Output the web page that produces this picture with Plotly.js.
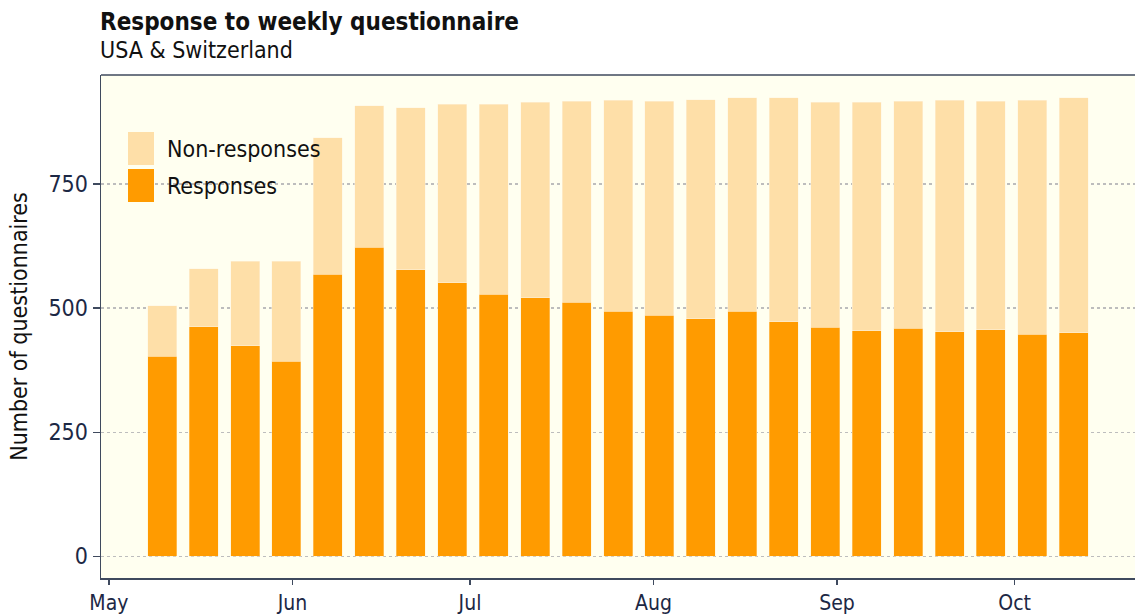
<!DOCTYPE html>
<html>
<head>
<meta charset="utf-8">
<script src="https://cdn.plot.ly/plotly-3.0.1.min.js"></script>
<style>html,body{margin:0;padding:0;background:#fff;}#chart{width:1135px;height:616px;}</style>
</head>
<body>
<div id="chart"></div>
<script>
// Week start dates (weekly questionnaire)
const weeks = ["2020-05-10","2020-05-17","2020-05-24","2020-05-31","2020-06-07","2020-06-14","2020-06-21","2020-06-28","2020-07-05","2020-07-12","2020-07-19","2020-07-26","2020-08-02","2020-08-09","2020-08-16","2020-08-23","2020-08-30","2020-09-06","2020-09-13","2020-09-20","2020-09-27","2020-10-04","2020-10-11"];
// Total questionnaires sent each week
const totals = [505, 579, 595, 595, 844, 908, 904, 911, 911, 915, 917, 919, 917, 920, 924, 924, 915, 915, 917, 919, 917, 919, 924];
// Responses received
const responses = [403, 463, 424, 393, 568, 623, 577, 551, 528, 521, 512, 494, 486, 479, 494, 473, 462, 454, 459, 452, 456, 447, 450];
const nonResponses = totals.map((t, i) => t - responses[i]);
const yTicks = [0, 250, 500, 750];

const FONT = "DejaVu Sans Condensed, DejaVu Sans, sans-serif";
const NAVY = "#1c2845";
const AXIS = "#3f4a5e";
const C_RESP = "#ff9b00";
const C_NON = "#fedfa8";

const traces = [
  {type: "bar", name: "Responses", x: weeks, y: responses,
   marker: {color: C_RESP, line: {color: "rgba(255,235,200,0.6)", width: 0.6}}},
  {type: "bar", name: "Non-responses", x: weeks, y: nonResponses,
   marker: {color: C_NON, line: {color: "rgba(255,245,225,0.8)", width: 0.6}}}
];

const layout = {
  width: 1135, height: 616,
  margin: {l: 101, r: 0, t: 75, b: 38, pad: 0},
  paper_bgcolor: "#ffffff",
  plot_bgcolor: "#fffff0",
  barmode: "stack",
  bargap: 0.3,
  showlegend: false,
  font: {family: FONT, color: NAVY, size: 23},
  xaxis: {
    type: "date",
    range: ["2020-04-29 16:00", "2020-10-21 08:00"],
    tick0: "2020-05-01", dtick: "M1", tickformat: "%b",
    ticks: "outside", ticklen: 5, tickwidth: 1.3, tickcolor: AXIS,
    showline: true, linecolor: AXIS, linewidth: 1.5,
    showgrid: false, zeroline: false,
    tickfont: {family: FONT, size: 21, color: NAVY}
  },
  yaxis: {
    range: [-44, 970],
    tickvals: yTicks,
    ticks: "outside", ticklen: 7, tickwidth: 1.3, tickcolor: AXIS,
    showline: true, linecolor: AXIS, linewidth: 1.5,
    showgrid: true, gridcolor: "#bdbdbd", griddash: "dot", gridwidth: 1.3,
    zeroline: false,
    tickfont: {family: FONT, size: 23, color: NAVY},
    title: {text: "Number of questionnaires", font: {family: FONT, size: 23, color: "#111"}, standoff: 14}
  },
  shapes: [
    {type: "line", xref: "paper", yref: "paper", x0: 0, x1: 1, y0: 1, y1: 1, line: {color: AXIS, width: 1.5}},
    // legend swatches
    {type: "rect", xref: "paper", yref: "paper", x0: 27/1034, x1: 53/1034, y0: (578-165)/503, y1: (578-132)/503, fillcolor: C_NON, line: {width: 0}},
    {type: "rect", xref: "paper", yref: "paper", x0: 27/1034, x1: 53/1034, y0: (578-202)/503, y1: (578-169)/503, fillcolor: C_RESP, line: {width: 0}}
  ],
  annotations: [
    {text: "<b>Response to weekly questionnaire</b>", xref: "paper", yref: "paper", x: -3/1034, y: (578-22)/503,
     xanchor: "left", yanchor: "middle", showarrow: false, font: {family: FONT, size: 24, color: "#111"}},
    {text: "USA &amp; Switzerland", xref: "paper", yref: "paper", x: -3/1034, y: (578-50)/503,
     xanchor: "left", yanchor: "middle", showarrow: false, font: {family: FONT, size: 23, color: "#111"}},
    {text: "Non-responses", xref: "paper", yref: "paper", x: 64/1034, y: (578-149)/503,
     xanchor: "left", yanchor: "middle", showarrow: false, font: {family: FONT, size: 23, color: "#111"}},
    {text: "Responses", xref: "paper", yref: "paper", x: 64/1034, y: (578-186)/503,
     xanchor: "left", yanchor: "middle", showarrow: false, font: {family: FONT, size: 23, color: "#111"}}
  ]
};

Plotly.newPlot("chart", traces, layout, {displayModeBar: false, staticPlot: true});
</script>
</body>
</html>
